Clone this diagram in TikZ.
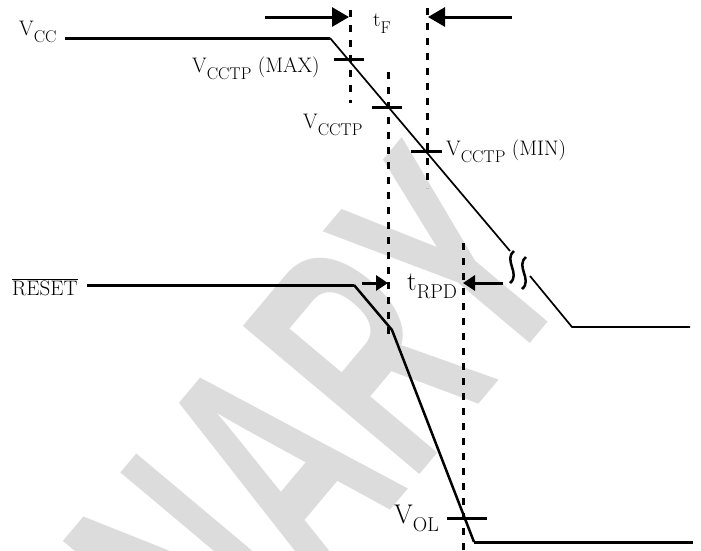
\documentclass[tikz,border=0pt]{standalone}
\usepackage{fontspec}
\newfontfamily\wmfont{Liberation Sans}
\usetikzlibrary{arrows.meta}
\definecolor{wmgray}{RGB}{220,220,220}
\newcommand\sbs[1]{\raisebox{-7pt}{\fontsize{17}{17}\selectfont #1}}
\newcommand\sbsbig[1]{\raisebox{-8pt}{\fontsize{20}{20}\selectfont #1}}
\tikzset{
  sigthick/.style={line width=3pt},
  sigthin/.style={line width=1.7pt},
  tickmark/.style={line width=3pt},
  dotv/.style={line width=3pt, dash pattern=on 7pt off 8pt},
  bigarrow/.style={line width=3pt, -{Triangle[length=17pt,width=19pt]}},
  smallarrow/.style={line width=3pt, -{Triangle[length=12pt,width=15pt]}},
  lbl/.style={font=\fontsize{21}{24}\selectfont, anchor=base west, inner sep=0pt},
  biglbl/.style={font=\fontsize{27}{30}\selectfont, anchor=base west, inner sep=0pt},
  watermark/.style={text=wmgray, font=\wmfont\bfseries\fontsize{335}{335}\selectfont, rotate=50, anchor=base west, inner sep=0pt}
}
\begin{document}
\begin{tikzpicture}[x=1pt,y=-1pt]
\useasboundingbox (0,0) rectangle (701,550);
\fill[white] (0,0) rectangle (701,550);
\begin{scope}
  \clip (0,0) rectangle (701,550);
  \node[watermark] (wm) at (231,700) {\scalebox{0.58}[1]{NARY}};
\end{scope}

% coordinates of signals
\coordinate (vccA) at (65,38);
\coordinate (vccB) at (330,38);
\coordinate (vccC) at (510,251);
\coordinate (vccD) at (530,276);
\coordinate (vccE) at (572,327);
\coordinate (vccF) at (690,327);
\coordinate (rA) at (87,285);
\coordinate (rB) at (354,285);
\coordinate (rC) at (392,330);
\coordinate (rD) at (474,542);
\coordinate (rE) at (693,542);

% dotted verticals
\coordinate (d1t) at (350,10);  \coordinate (d1b) at (350,103);
\coordinate (d2t) at (427,8);   \coordinate (d2b) at (427,188);
\coordinate (d3t) at (388,72);  \coordinate (d3b) at (388,338);
\coordinate (d4t) at (463,243); \coordinate (d4b) at (463,550);
\draw[dotv] (d1t) -- (d1b);
\draw[dotv] (d2t) -- (d2b);
\draw[dotv] (d3t) -- (d3b);
\draw[dotv] (d4t) -- (d4b);

% VCC waveform
\draw[sigthick] (vccA) -- (vccB);
\draw[sigthin] (vccB) -- (vccC);
\draw[line width=2.5pt] (514,251) .. controls (503,260) and (521,274) .. (510,283);
\draw[line width=2.5pt] (526,257) .. controls (515,266) and (533,280) .. (522,289);
\draw[sigthin] (vccD) -- (vccE) -- (vccF);

% RESET waveform
\draw[sigthick] (rA) -- (rB);
\draw[line width=2.5pt, line join=round] (rB) -- (rC) -- (rD);
\draw[sigthick] (rD) -- (rE);

% tick marks
\draw[tickmark] (334,59) -- (364,59);
\draw[tickmark] (372,107) -- (402,107);
\draw[tickmark] (411,151) -- (442,151);
\draw[tickmark] (447,518) -- (487,518);

% arrows
\coordinate (a1s) at (265,17); \coordinate (a1e) at (349,17);
\coordinate (a2s) at (512,17); \coordinate (a2e) at (428,17);
\coordinate (a3s) at (362,283); \coordinate (a3e) at (388,283);
\coordinate (a4s) at (503,283); \coordinate (a4e) at (463,283);
\draw[bigarrow] (a1s) -- (a1e);
\draw[bigarrow] (a2s) -- (a2e);
\draw[smallarrow] (a3s) -- (a3e);
\draw[smallarrow] (a4s) -- (a4e);

% labels
\node[lbl] (lvcc) at (19,35) {V\sbs{CC}};
\node[lbl] (lmax) at (192,72) {V\sbs{CCTP} (MAX)};
\node[lbl] (ltp) at (303,128) {V\sbs{CCTP}};
\node[lbl] (lmin) at (446,155) {V\sbs{CCTP} (MIN)};
\node[lbl] (ltf) at (373,26) {t\sbs{F}};
\node[lbl] (lreset) at (12,295) {$\overline{\mbox{RESET}}$};
\node[biglbl] (ltrpd) at (407,290) {t\sbsbig{RPD}};
\node[biglbl] (lvol) at (394,523) {V\sbsbig{OL}};
\end{tikzpicture}
\end{document}
